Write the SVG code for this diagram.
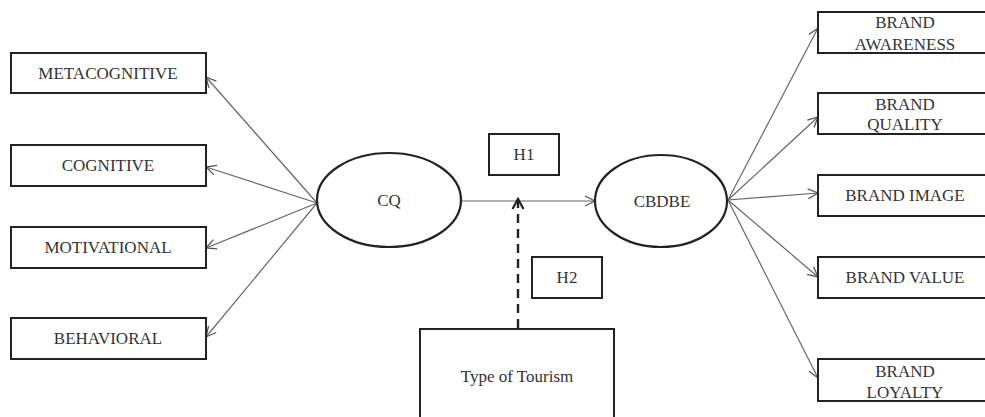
<svg xmlns="http://www.w3.org/2000/svg" width="985" height="417" viewBox="0 0 985 417">
<defs>
<marker id="arr" viewBox="0 0 12 12" refX="11" refY="6" markerWidth="12" markerHeight="12" markerUnits="userSpaceOnUse" orient="auto">
<path d="M1,1 L11,6 L1,11" fill="none" stroke="#555" stroke-width="1.3"/>
</marker>
<marker id="arrd" viewBox="0 0 14 14" refX="12" refY="7" markerWidth="14" markerHeight="14" markerUnits="userSpaceOnUse" orient="auto">
<path d="M2,1.5 L12,7 L2,12.5" fill="none" stroke="#222" stroke-width="2.2"/>
</marker>
</defs>
<style>
.box{fill:#fff;stroke:#222;stroke-width:2}
.ell{fill:#fff;stroke:#222;stroke-width:2.2}
.t{font-family:"Liberation Serif","Times New Roman",serif;font-size:17px;fill:#333;text-anchor:middle}
.c{stroke:#666;stroke-width:1.2;fill:none;marker-end:url(#arr)}
.d{stroke:#222;stroke-width:2.4;fill:none;stroke-dasharray:9,6;marker-end:url(#arrd)}
</style>
<rect width="985" height="417" fill="#fff"/>
<g id="connectors">
<line class="c" x1="317" y1="203" x2="206" y2="77"/>
<line class="c" x1="317" y1="203" x2="206" y2="167"/>
<line class="c" x1="317" y1="203" x2="206" y2="248"/>
<line class="c" x1="317" y1="203" x2="206" y2="337"/>
<line class="c" x1="462" y1="201" x2="595" y2="201"/>
<line class="c" x1="728" y1="200" x2="818" y2="28"/>
<line class="c" x1="728" y1="200" x2="818" y2="117"/>
<line class="c" x1="728" y1="200" x2="818" y2="193"/>
<line class="c" x1="728" y1="200" x2="818" y2="277"/>
<line class="c" x1="728" y1="200" x2="818" y2="378"/>
<line class="d" x1="518" y1="328" x2="518" y2="199"/>
</g>
<g id="metacognitive"><rect class="box" x="11" y="53" width="195" height="40"/><text class="t" x="108" y="79">METACOGNITIVE</text></g>
<g id="cognitive"><rect class="box" x="11" y="145" width="195" height="41"/><text class="t" x="108" y="171">COGNITIVE</text></g>
<g id="motivational"><rect class="box" x="11" y="227" width="195" height="41"/><text class="t" x="108" y="253">MOTIVATIONAL</text></g>
<g id="behavioral"><rect class="box" x="11" y="318" width="195" height="41"/><text class="t" x="108" y="344">BEHAVIORAL</text></g>
<g id="cq"><ellipse class="ell" cx="389" cy="200" rx="72" ry="47"/><text class="t" x="389" y="206">CQ</text></g>
<g id="h1"><rect class="box" x="489" y="134" width="70" height="41"/><text class="t" x="524" y="160">H1</text></g>
<g id="h2"><rect class="box" x="532" y="257" width="70" height="41"/><text class="t" x="567" y="283">H2</text></g>
<g id="tourism"><rect class="box" x="420" y="329" width="194" height="100"/><text class="t" x="517" y="382">Type of Tourism</text></g>
<g id="cbdbe"><ellipse class="ell" cx="661" cy="201" rx="66" ry="46"/><text class="t" x="662" y="207">CBDBE</text></g>
<g id="awareness"><rect class="box" x="818" y="12" width="180" height="41"/><text class="t" x="905" y="28">BRAND</text><text class="t" x="905" y="50">AWARENESS</text></g>
<g id="quality"><rect class="box" x="818" y="93" width="180" height="41"/><text class="t" x="905" y="110">BRAND</text><text class="t" x="905" y="130">QUALITY</text></g>
<g id="image"><rect class="box" x="818" y="175" width="180" height="41"/><text class="t" x="905" y="201">BRAND IMAGE</text></g>
<g id="value"><rect class="box" x="818" y="257" width="180" height="41"/><text class="t" x="905" y="283">BRAND VALUE</text></g>
<g id="loyalty"><rect class="box" x="818" y="359" width="180" height="42"/><text class="t" x="905" y="377">BRAND</text><text class="t" x="905" y="398">LOYALTY</text></g>
</svg>
